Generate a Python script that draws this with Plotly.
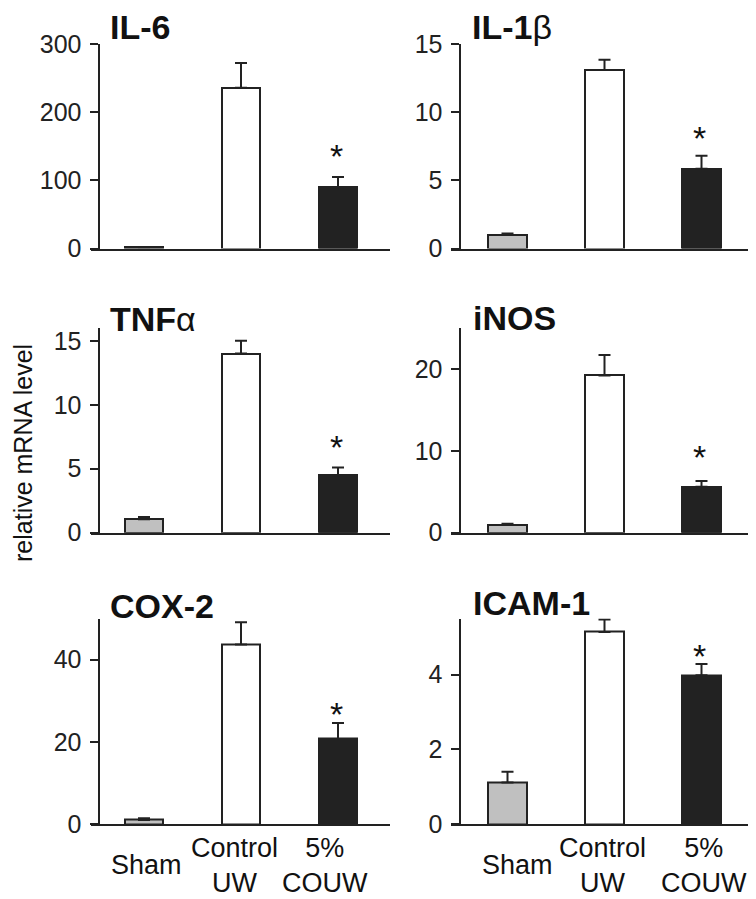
import plotly.graph_objects as go

# ---------------- data ----------------
groups = ["Sham", "Control UW", "5% COUW"]
group_labels = ["Sham", "Control<br>UW", "5%<br>COUW"]
panel_titles = ["<b>IL-6</b>", "<b>IL-1</b>β", "<b>TNF</b>α", "<b>iNOS</b>", "<b>COX-2</b>", "<b>ICAM-1</b>"]

il6_mean = [2, 236, 90]
il6_err = [0, 36, 15]
il1b_mean = [1.0, 13.1, 5.85]
il1b_err = [0.1, 0.75, 0.95]
tnfa_mean = [1.05, 14.0, 4.5]
tnfa_err = [0.18, 1.0, 0.6]
inos_mean = [0.95, 19.2, 5.6]
inos_err = [0.15, 2.5, 0.7]
cox2_mean = [1.0, 43.7, 20.7]
cox2_err = [0.4, 5.4, 3.9]
icam1_mean = [1.11, 5.14, 3.98]
icam1_err = [0.29, 0.33, 0.30]

star_y = [143.7, 8.5, 7.1, 9.9, 28, 4.62]   # asterisk above "5% COUW"
y_max = [300, 15, 16, 25, 50, 5.5]
y_ticks = [[0, 100, 200, 300], [0, 5, 10, 15], [0, 5, 10, 15],
           [0, 10, 20], [0, 20, 40], [0, 2, 4]]

means = [il6_mean, il1b_mean, tnfa_mean, inos_mean, cox2_mean, icam1_mean]
errs = [il6_err, il1b_err, tnfa_err, inos_err, cox2_err, icam1_err]

# ---------------- style / layout ----------------
W, H = 756, 899
OFF = 8  # page body margin in the screenshot
FONT = "Arial, Liberation Sans, Helvetica, sans-serif"
INK = "#222222"
bar_colors = ["#c0c0c0", "#ffffff", "#222222"]

def px_x(p):
    return (p - OFF) / W

def px_y(p):
    return (H - (p - OFF)) / H

left_col = dict(xl=91, xr=390, yx=98.5, c0=144)
right_col = dict(xl=451, xr=750, yx=459.5, c0=507.5)
rows = [(248.5, 44), (532.7, 328), (824, 618.5)]
spacing = 97.0
title_pos = [(108, 30), (470, 30), (108, 322), (471, 321), (108, 609), (471, 606)]

fig = go.Figure()
layout = dict(
    width=W, height=H,
    margin=dict(l=0, r=0, t=0, b=0, pad=0, autoexpand=False),
    paper_bgcolor="white", plot_bgcolor="rgba(0,0,0,0)",
    showlegend=False,
    font=dict(family=FONT, color=INK),
    bargap=0,
)
annotations = []

for i in range(6):
    col = left_col if i % 2 == 0 else right_col
    zero_y, top_y = rows[i // 2]
    n = "" if i == 0 else str(i + 1)
    xa, ya = "x" + n, "y" + n

    fig.add_trace(go.Bar(
        x=groups, y=means[i],
        xaxis=xa, yaxis=ya,
        width=0.40,
        marker=dict(color=bar_colors, line=dict(color=INK, width=2)),
        error_y=dict(type="data", array=errs[i], arrayminus=[0, 0, 0],
                     symmetric=False, color=INK, thickness=2, width=6),
        hoverinfo="skip",
    ))

    r0 = -(col["c0"] - col["xl"]) / spacing
    r1 = 2 + (col["xr"] - (col["c0"] + 2 * spacing)) / spacing
    layout["xaxis" + n] = dict(
        domain=[px_x(col["xl"]), px_x(col["xr"])],
        anchor=ya, type="category", categoryorder="array", categoryarray=groups,
        range=[r0, r1], showticklabels=False, ticks="",
        showline=True, linewidth=2, linecolor=INK, automargin=False,
        showgrid=False, zeroline=False, fixedrange=True,
    )
    layout["yaxis" + n] = dict(
        domain=[px_y(zero_y), px_y(top_y)],
        anchor="free", position=px_x(col["yx"]),
        range=[0, y_max[i]], tickvals=y_ticks[i],
        ticks="outside", ticklen=8, tickwidth=2, tickcolor=INK,
        tickfont=dict(size=25, family=FONT, color=INK),
        ticklabelstandoff=3, automargin=False,
        showline=True, linewidth=2, linecolor=INK,
        showgrid=False, zeroline=False, fixedrange=True,
    )

    tx, ty = title_pos[i]
    annotations.append(dict(
        text=panel_titles[i], xref="paper", yref="paper",
        x=px_x(tx), y=px_y(ty), xanchor="left", yanchor="middle",
        showarrow=False, font=dict(size=34, family=FONT, color="#111"),
        yshift=3,
    ))
    annotations.append(dict(
        text="*", xref=xa, yref=ya, x=groups[2], y=star_y[i],
        xanchor="center", yanchor="middle", showarrow=False,
        font=dict(size=34, family=FONT, color="#111"), yshift=-5, xshift=-2,
    ))

label_shift = {4: [2, -7, -13], 5: [10, -2, 2]}
for i in (4, 5):
    n = str(i + 1)
    for k, g in enumerate(groups):
        annotations.append(dict(
            text=group_labels[k], xref="x" + n, yref="paper",
            x=g, y=px_y(865), xanchor="center", yanchor="middle",
            showarrow=False, xshift=label_shift[i][k],
            font=dict(size=27, family=FONT, color="#111"),
        ))

annotations.append(dict(
    text="relative mRNA level", xref="paper", yref="paper",
    x=px_x(23), y=px_y(453), xanchor="center", yanchor="middle",
    textangle=-90, showarrow=False,
    font=dict(size=25, family=FONT, color="#111"),
))

layout["annotations"] = annotations
fig.update_layout(**layout)
fig.write_html("out.html")
